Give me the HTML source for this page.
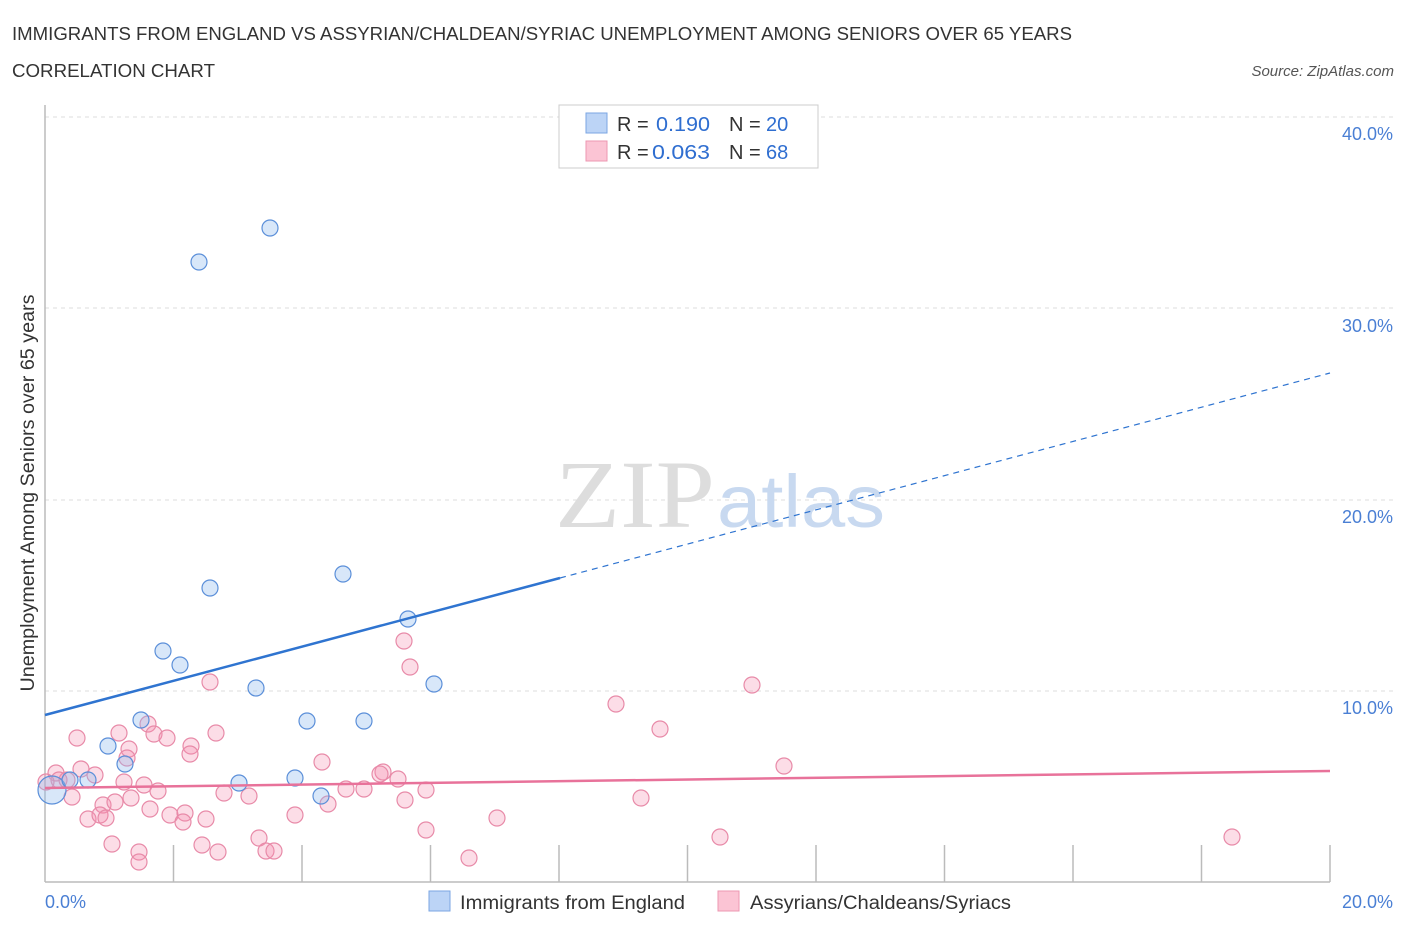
<!DOCTYPE html>
<html><head><meta charset="utf-8"><style>
body{margin:0;background:#fff;font-family:"Liberation Sans",sans-serif}
</style></head><body>
<svg width="1406" height="930" xmlns="http://www.w3.org/2000/svg" font-family="Liberation Sans, sans-serif">
<text x="12" y="40" font-size="18" fill="#333" textLength="1060" lengthAdjust="spacingAndGlyphs">IMMIGRANTS FROM ENGLAND VS ASSYRIAN/CHALDEAN/SYRIAC UNEMPLOYMENT AMONG SENIORS OVER 65 YEARS</text>
<text x="12" y="77" font-size="18" fill="#333" textLength="203" lengthAdjust="spacingAndGlyphs">CORRELATION CHART</text>
<text x="1394" y="76" font-size="15" fill="#555" font-style="italic" text-anchor="end">Source: ZipAtlas.com</text>
<g stroke="#ddd" stroke-dasharray="4,4" stroke-width="1">
<line x1="45" y1="117" x2="1394" y2="117"/><line x1="45" y1="308" x2="1394" y2="308"/>
<line x1="45" y1="500" x2="1394" y2="500"/><line x1="45" y1="691" x2="1394" y2="691"/></g>
<g stroke="#bbb" stroke-width="1.5">
<line x1="45" y1="105" x2="45" y2="882"/><line x1="45" y1="882" x2="1330" y2="882"/>
<line x1="173.5" y1="845" x2="173.5" y2="882"/><line x1="302" y1="845" x2="302" y2="882"/><line x1="430.5" y1="845" x2="430.5" y2="882"/><line x1="559" y1="845" x2="559" y2="882"/><line x1="687.5" y1="845" x2="687.5" y2="882"/><line x1="816" y1="845" x2="816" y2="882"/><line x1="944.5" y1="845" x2="944.5" y2="882"/><line x1="1073" y1="845" x2="1073" y2="882"/><line x1="1201.5" y1="845" x2="1201.5" y2="882"/><line x1="1330" y1="845" x2="1330" y2="882"/></g>
<g font-size="18" fill="#4a7fd4" text-anchor="end">
<text x="1393" y="140">40.0%</text><text x="1393" y="332">30.0%</text><text x="1393" y="523">20.0%</text><text x="1393" y="714">10.0%</text>
<text x="1393" y="908">20.0%</text></g>
<text x="45" y="908" font-size="18" fill="#4a7fd4">0.0%</text>
<text transform="translate(34,493) rotate(-90)" font-size="19" fill="#333" text-anchor="middle" textLength="397" lengthAdjust="spacingAndGlyphs">Unemployment Among Seniors over 65 years</text>
<text x="555" y="527" font-size="96" fill="#ddd" font-family="Liberation Serif, serif" textLength="160" lengthAdjust="spacingAndGlyphs">ZIP</text>
<text x="717" y="527" font-size="74" fill="#c8d9f0" textLength="168" lengthAdjust="spacingAndGlyphs">atlas</text>
<g fill="rgba(244,143,177,0.3)" stroke="#e88aa8" stroke-width="1.2">
<circle cx="404" cy="641" r="8"/><circle cx="410" cy="667" r="8"/><circle cx="210" cy="682" r="8"/><circle cx="752" cy="685" r="8"/><circle cx="616" cy="704" r="8"/><circle cx="660" cy="729" r="8"/><circle cx="148" cy="724" r="8"/><circle cx="77" cy="738" r="8"/><circle cx="119" cy="733" r="8"/><circle cx="154" cy="734" r="8"/><circle cx="167" cy="738" r="8"/><circle cx="216" cy="733" r="8"/><circle cx="191" cy="746" r="8"/><circle cx="129" cy="749" r="8"/><circle cx="190" cy="754" r="8"/><circle cx="127" cy="758" r="8"/><circle cx="322" cy="762" r="8"/><circle cx="784" cy="766" r="8"/><circle cx="56" cy="773" r="8"/><circle cx="81" cy="769" r="8"/><circle cx="95" cy="775" r="8"/><circle cx="59" cy="780" r="8"/><circle cx="46" cy="782" r="8"/><circle cx="67" cy="780" r="8"/><circle cx="124" cy="782" r="8"/><circle cx="144" cy="785" r="8"/><circle cx="383" cy="772" r="8"/><circle cx="380" cy="774" r="8"/><circle cx="398" cy="779" r="8"/><circle cx="346" cy="789" r="8"/><circle cx="364" cy="789" r="8"/><circle cx="426" cy="790" r="8"/><circle cx="158" cy="791" r="8"/><circle cx="224" cy="793" r="8"/><circle cx="249" cy="796" r="8"/><circle cx="131" cy="798" r="8"/><circle cx="103" cy="805" r="8"/><circle cx="72" cy="797" r="8"/><circle cx="115" cy="802" r="8"/><circle cx="405" cy="800" r="8"/><circle cx="641" cy="798" r="8"/><circle cx="328" cy="804" r="8"/><circle cx="150" cy="809" r="8"/><circle cx="170" cy="815" r="8"/><circle cx="185" cy="813" r="8"/><circle cx="206" cy="819" r="8"/><circle cx="88" cy="819" r="8"/><circle cx="100" cy="815" r="8"/><circle cx="106" cy="818" r="8"/><circle cx="183" cy="822" r="8"/><circle cx="295" cy="815" r="8"/><circle cx="497" cy="818" r="8"/><circle cx="426" cy="830" r="8"/><circle cx="259" cy="838" r="8"/><circle cx="720" cy="837" r="8"/><circle cx="1232" cy="837" r="8"/><circle cx="112" cy="844" r="8"/><circle cx="202" cy="845" r="8"/><circle cx="139" cy="852" r="8"/><circle cx="218" cy="852" r="8"/><circle cx="266" cy="851" r="8"/><circle cx="274" cy="851" r="8"/><circle cx="469" cy="858" r="8"/><circle cx="139" cy="862" r="8"/>
</g>
<g fill="rgba(144,186,238,0.35)" stroke="#5b8fd9" stroke-width="1.2">
<circle cx="52" cy="790" r="14"/><circle cx="270" cy="228" r="8"/><circle cx="199" cy="262" r="8"/><circle cx="210" cy="588" r="8"/><circle cx="343" cy="574" r="8"/><circle cx="408" cy="619" r="8"/><circle cx="163" cy="651" r="8"/><circle cx="180" cy="665" r="8"/><circle cx="256" cy="688" r="8"/><circle cx="434" cy="684" r="8"/><circle cx="141" cy="720" r="8"/><circle cx="307" cy="721" r="8"/><circle cx="364" cy="721" r="8"/><circle cx="108" cy="746" r="8"/><circle cx="125" cy="764" r="8"/><circle cx="239" cy="783" r="8"/><circle cx="295" cy="778" r="8"/><circle cx="321" cy="796" r="8"/><circle cx="70" cy="780" r="8"/><circle cx="88" cy="780" r="8"/>
</g>
<line x1="45" y1="715" x2="560" y2="578" stroke="#2f74d0" stroke-width="2.5"/>
<line x1="560" y1="578" x2="1330" y2="373" stroke="#2f74d0" stroke-width="1.2" stroke-dasharray="6,5"/>
<line x1="45" y1="788" x2="1330" y2="771" stroke="#e8729a" stroke-width="2.5"/>
<rect x="559" y="105" width="259" height="63" fill="#fff" stroke="#ccc"/>
<rect x="586" y="113" width="21" height="20" fill="#bcd4f6" stroke="#7ba6e3"/>
<rect x="586" y="141" width="21" height="20" fill="#fbc4d4" stroke="#ec97b2"/>
<g font-size="20"><text x="617" y="131" fill="#333">R = </text><text x="656" y="131" fill="#2f6ed0" textLength="54" lengthAdjust="spacingAndGlyphs">0.190</text><text x="729" y="131" fill="#333">N =</text><text x="766" y="131" fill="#2f6ed0">20</text>
<text x="617" y="159" fill="#333">R =</text><text x="652" y="159" fill="#2f6ed0" textLength="58" lengthAdjust="spacingAndGlyphs">0.063</text><text x="729" y="159" fill="#333">N =</text><text x="766" y="159" fill="#2f6ed0">68</text></g>
<rect x="429" y="891" width="21" height="20" fill="#bcd4f6" stroke="#7ba6e3"/>
<text x="460" y="909" font-size="19" fill="#333" textLength="225" lengthAdjust="spacingAndGlyphs">Immigrants from England</text>
<rect x="718" y="891" width="21" height="20" fill="#fbc4d4" stroke="#ec97b2"/>
<text x="750" y="909" font-size="19" fill="#333" textLength="261" lengthAdjust="spacingAndGlyphs">Assyrians/Chaldeans/Syriacs</text>
</svg>
</body></html>
